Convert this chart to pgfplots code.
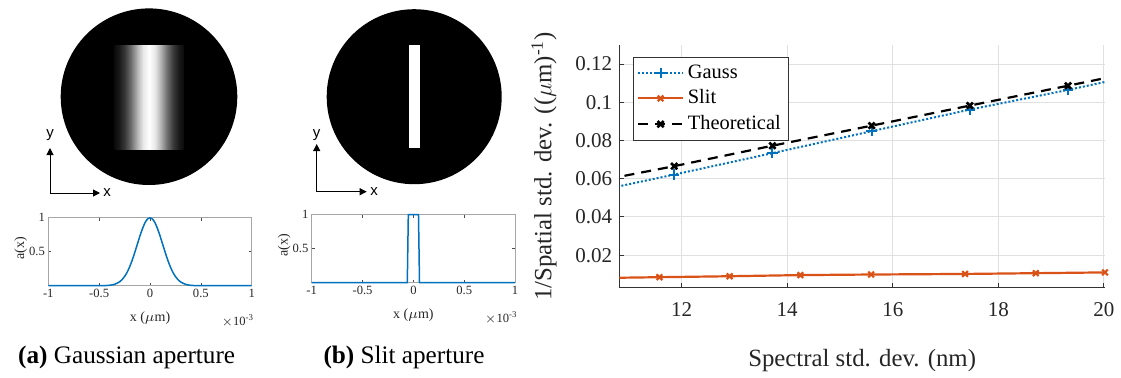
\documentclass[border=0pt]{standalone}
\usepackage{fontspec}
\setmainfont{Liberation Serif}
\newfontfamily\sansf{Liberation Sans}
\usepackage{pgfplots}
\pgfplotsset{compat=1.18}
\usetikzlibrary{arrows.meta}
\definecolor{mblue}{rgb}{0,0.447,0.741}
\definecolor{morange}{rgb}{0.85,0.325,0.098}
\definecolor{mgrid}{rgb}{0.88,0.88,0.88}
\definecolor{maxis}{rgb}{0.2,0.2,0.2}
\pgfplotsset{
  smallap/.style={
    scale only axis, width=101.7pt, height=34pt, clip=false,
    xmin=-1, xmax=1, ymin=0, ymax=1,
    xtick={-1,-0.5,0,0.5,1}, xticklabels={-1,-0.5,0,0.5,1},
    ytick={0.5,1}, yticklabels={0.5,1},
    tick label style={font=\rmfamily\fontsize{6.3}{7}\selectfont, inner sep=1.5pt, text=black!85},
    axis line style={draw=black!35, line width=0.4pt},
    tick style={draw=black!70, line width=0.3pt},
    major tick length=1.5pt,
    xlabel={x ($\mu$m)}, ylabel={a(x)},
    label style={font=\rmfamily\fontsize{7}{8}\selectfont, text=black!85},
    xlabel style={at={(axis description cs:0.5,-0.47)}, anchor=center},
    ylabel style={at={(axis description cs:-0.135,0.55)}, anchor=center},
  }
}
\begin{document}
\begin{tikzpicture}
\useasboundingbox (0,0) rectangle (560.5pt,188.5pt);

% ---------- (a) Gaussian aperture illustration ----------
\fill[black] (74.5pt,140.15pt) circle[radius=44.15pt];
\foreach \da/\db/\ca/\cb in {0/3/100/91.2, 3/6/91.2/69.3, 6/9/69.3/43.7, 9/12/43.7/23, 12/15/23/10.1, 15/17.25/10.1/4.4}{
  \shade[left color=white!\ca!black, right color=white!\cb!black] (74.5pt+\da pt-0.1pt,114pt) rectangle (74.5pt+\db pt,166pt);
  \shade[left color=white!\cb!black, right color=white!\ca!black] (74.5pt-\db pt,114pt) rectangle (74.5pt-\da pt+0.1pt,166pt);
}
\draw[line width=0.5pt, -{Triangle[length=3.5pt,width=3.5pt]}] (25pt,92pt) -- (25pt,114.5pt);
\draw[line width=0.5pt, -{Triangle[length=3.5pt,width=3.5pt]}] (25pt,92pt) -- (50pt,92pt);
\node[font=\sansf\fontsize{7.5}{8}\selectfont, inner sep=0pt] at (25pt,121pt) {y};
\node[font=\sansf\fontsize{7.5}{8}\selectfont, inner sep=0pt] at (53.5pt,92pt) {x};

% ---------- (b) Slit aperture illustration ----------
\fill[black] (207.1pt,140.15pt) circle[radius=43.75pt];
\fill[white] (204.5pt,114.65pt) rectangle (210pt,166pt);
\draw[line width=0.5pt, -{Triangle[length=3.5pt,width=3.5pt]}] (158.35pt,92.65pt) -- (158.35pt,116.5pt);
\draw[line width=0.5pt, -{Triangle[length=3.5pt,width=3.5pt]}] (158.35pt,92.65pt) -- (183.35pt,92.65pt);
\node[font=\sansf\fontsize{7.5}{8}\selectfont, inner sep=0pt] at (158.35pt,121pt) {y};
\node[font=\sansf\fontsize{7.5}{8}\selectfont, inner sep=0pt] at (187pt,92.65pt) {x};

% ---------- (a) profile ----------
\begin{axis}[smallap, at={(24.15pt,45.65pt)}, anchor=south west]
\addplot[mblue, line width=0.75pt, smooth] coordinates {
(-1,0) (-0.5,0) (-0.45,0.0015) (-0.4,0.006) (-0.35,0.020) (-0.3,0.056) (-0.275,0.089) (-0.25,0.135)
(-0.225,0.198) (-0.2,0.278) (-0.175,0.375) (-0.15,0.487) (-0.125,0.607) (-0.1,0.726)
(-0.075,0.835) (-0.05,0.923) (-0.025,0.980) (0,1) (0.025,0.980) (0.05,0.923) (0.075,0.835)
(0.1,0.726) (0.125,0.607) (0.15,0.487) (0.175,0.375) (0.2,0.278) (0.225,0.198) (0.25,0.135)
(0.275,0.089) (0.3,0.056) (0.35,0.020) (0.4,0.006) (0.45,0.0015) (0.5,0) (1,0)};
\node[anchor=west, inner sep=0pt, font=\rmfamily\fontsize{6.3}{7}\selectfont, text=black!85] at (axis description cs:0.85,-0.52) {$\times$10\textsuperscript{-3}};
\end{axis}

% ---------- (b) profile ----------
\begin{axis}[smallap, at={(155.85pt,47.15pt)}, anchor=south west]
\addplot[mblue, line width=0.75pt] coordinates {
(-1,0) (-0.06,0) (-0.05,1) (0.05,1) (0.06,0) (1,0)};
\node[anchor=west, inner sep=0pt, font=\rmfamily\fontsize{6.3}{7}\selectfont, text=black!85] at (axis description cs:0.85,-0.52) {$\times$10\textsuperscript{-3}};
\end{axis}

% ---------- captions ----------
\node[font=\rmfamily\fontsize{12.6}{14}\selectfont] at (63.35pt,9.75pt) {\textbf{(a)} Gaussian aperture};
\node[font=\rmfamily\fontsize{12.6}{14}\selectfont] at (202pt,9.75pt) {\textbf{(b)} Slit aperture};

% ---------- main plot ----------
\begin{axis}[
  at={(309.65pt,44.65pt)}, anchor=south west,
  scale only axis, width=242.85pt, height=121.35pt,
  xmin=10.82, xmax=20.02, ymin=0.003, ymax=0.13,
  axis x line*=bottom, axis y line*=left,
  axis line style={-, draw=maxis, line width=0.5pt},
  xtick={12,14,16,18,20}, xticklabels={12,14,16,18,20},
  ytick={0.02,0.04,0.06,0.08,0.1,0.12},
  yticklabels={0.02,0.04,0.06,0.08,0.1,0.12},
  tick align=inside, major tick length=2.5pt,
  tick style={draw=maxis, line width=0.5pt},
  tick label style={font=\rmfamily\fontsize{10.5}{12}\selectfont, text=black!85},
  xticklabel style={yshift=-4pt},
  grid=major, major grid style={draw=mgrid, line width=0.5pt},
  xlabel={Spectral std. dev. (nm)},
  ylabel={1/Spatial std. dev. (($\mu$m)\textsuperscript{-1})},
  label style={font=\rmfamily\fontsize{12.4}{14}\selectfont, text=black!85},
  xlabel style={at={(axis description cs:0.5,-0.30)}, anchor=center},
  ylabel style={at={(axis description cs:-0.155,0.5)}, anchor=center},
  legend style={at={(0.0288,0.9518)}, anchor=north west, draw=black!80, line width=0.4pt,
    font=\rmfamily\fontsize{10.2}{12}\selectfont, inner sep=1.8pt, row sep=0.3pt},
  legend cell align=left,
  legend image code/.code={\draw[#1, mark indices={2}] plot coordinates {(0cm,0cm) (0.39cm,0cm) (0.78cm,0cm)};},
]
\addplot[mblue, line width=1pt, dash pattern=on 1pt off 1pt, mark=+, mark size=2.6pt,
  mark options={solid, line width=1pt}, mark indices={1,2,3,4,5}] coordinates {
(9.97,0.0511) (11.86,0.0622) (13.72,0.0734) (15.60,0.0849) (17.46,0.0962) (19.32,0.1065) (21.19,0.1176)};
\addlegendentry{Gauss}
\addplot[morange, line width=1.1pt, mark=x, mark size=2pt,
  mark options={solid, line width=1.1pt}, mark indices={1,2,3,4,5,6,7}] coordinates {
(10.25,0.0080) (11.58,0.0085) (12.91,0.0090) (14.25,0.0096) (15.59,0.0099) (17.37,0.0102) (18.71,0.0106) (20.02,0.0110)};
\addlegendentry{Slit}
\addplot[black, line width=1.1pt, dash pattern=on 5pt off 3.5pt, mark=x, mark size=2.2pt,
  mark options={solid, line width=1.3pt}, mark indices={1,2,3,4,5}] coordinates {
(9.97,0.0565) (11.86,0.0666) (13.72,0.0773) (15.60,0.0878) (17.46,0.0983) (19.32,0.1087) (21.19,0.1193)};
\addlegendentry{Theoretical}
\end{axis}
\end{tikzpicture}
\end{document}
